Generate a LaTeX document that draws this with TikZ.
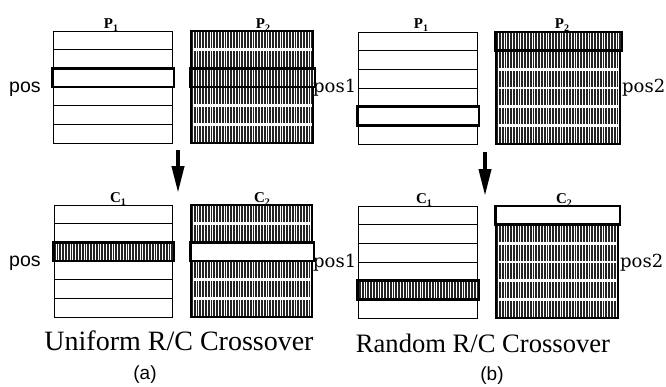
\documentclass[tikz,border=0pt]{standalone}
\usepackage{fontspec}
\setmainfont{Liberation Serif}
\setsansfont{Liberation Sans}
\newfontfamily\posserif{DejaVu Serif}
\usetikzlibrary{arrows.meta,patterns.meta}
\newcommand\rowh{18.667}
% white matrix: #1 x0, #2 y0, #3 x1
\newcommand\wmat[3]{%
  \foreach \k in {0,...,5}{\draw[wrow] (#1,{#2+\k*\rowh}) rectangle (#3,{#2+(\k+1)*\rowh});}}
% gray matrix
\newcommand\gmat[3]{%
  \fill[gtex] (#1,#2) rectangle (#3,{#2+6*\rowh});
  \foreach \k in {1,...,5}{\draw[gsep] ({#1+1.5},{#2+\k*\rowh}) -- ({#3-1.5},{#2+\k*\rowh});}
  \draw[gframe] (#1,#2) rectangle (#3,{#2+6*\rowh});}
% highlighted row: #1 x0, #2 y0, #3 x1, #4 row index, #5 fill style
\newcommand\hrow[5]{%
  \fill[#5] ({#1-0.5},{#2+#4*\rowh}) rectangle ({#3+2},{#2+(#4+1)*\rowh});
  \draw[hborder] ({#1-0.5},{#2+#4*\rowh}) rectangle ({#3+2},{#2+(#4+1)*\rowh});}
\newcommand\lab[2]{\textbf{#1}\raisebox{-3.5pt}{\fontsize{10}{10}\selectfont\textbf{#2}}}
\begin{document}
\begin{tikzpicture}[x=1pt,y=-1pt,
  wrow/.style={draw=black, line width=1pt, fill=white},
  gtex/.style={fill=black!86, postaction={pattern={Lines[angle=90,distance=2.8pt,line width=0.75pt]}, pattern color=white}},
  gsep/.style={draw=white, line width=2.6pt},
  gframe/.style={draw=black, line width=1.2pt},
  hw/.style={fill=white},
  hg/.style={gtex},
  hborder/.style={draw=black, line width=2.5pt},
  lbl/.style={font=\fontsize{15}{15}\selectfont, inner sep=0pt, anchor=base},
  possans/.style={font=\sffamily\fontsize{19.5}{19.5}\selectfont, inner sep=0pt, anchor=base west},
  posser/.style={font=\posserif\fontsize{18}{18}\selectfont, inner sep=0pt, anchor=base west},
  captext/.style={inner sep=0pt, anchor=base},
  subtext/.style={font=\sffamily\fontsize{19}{19}\selectfont, inner sep=0pt, anchor=base},
  downarrow/.style={draw=black, line width=4pt, -{Triangle[length=27pt,width=12pt]}}
]
\useasboundingbox (0,0) rectangle (666,386);
\fill[white] (0,0) rectangle (666,386);

% ---------- panel (a) ----------
\wmat{53}{31}{172}
\hrow{53}{31}{172}{2}{hw}
\gmat{191}{31}{313}
\hrow{191}{31}{313}{2}{hg}
\wmat{54}{205}{172}
\hrow{54}{205}{172}{2}{hg}
\gmat{191}{205}{312}
\hrow{191}{205}{312}{2}{hw}

\node[lbl] (ap1) at (111,28) {\lab{P}{1}};
\node[lbl] (ap2) at (263,28) {\lab{P}{2}};
\node[lbl] (ac1) at (118,202) {\lab{C}{1}};
\node[lbl] (ac2) at (262,202) {\lab{C}{2}};
\node[possans] (apos1) at (9,92) {pos};
\node[possans] (apos2) at (9,266) {pos};

\coordinate (aar1) at (178,150);
\coordinate (aar2) at (178,193);
\draw[downarrow] (aar1) -- (aar2);

\node[captext, font=\fontsize{28}{28}\selectfont] (capa) at (179,350) {Uniform R/C Crossover};
\node[subtext] (suba) at (145,379) {(a)};

% ---------- panel (b) ----------
\wmat{358}{32}{477}
\hrow{358}{32}{477}{4}{hw}
\gmat{496}{32}{620}
\hrow{496}{32}{620}{0}{hg}
\wmat{358}{206}{477}
\hrow{358}{206}{477}{4}{hg}
\gmat{496}{206}{618}
\hrow{496}{206}{618}{0}{hw}

\node[lbl] (bp1) at (421,28) {\lab{P}{1}};
\node[lbl] (bp2) at (562,28) {\lab{P}{2}};
\node[lbl] (bc1) at (424,203) {\lab{C}{1}};
\node[lbl] (bc2) at (564,203) {\lab{C}{2}};
\node[posser] (bpos1) at (313,92) {pos1};
\node[posser] (bpos2) at (622,92) {pos2};
\node[posser] (bpos3) at (313,267) {pos1};
\node[posser] (bpos4) at (620,267) {pos2};

\coordinate (bar1) at (485,152);
\coordinate (bar2) at (485,196);
\draw[downarrow] (bar1) -- (bar2);

\node[captext, font=\fontsize{26.6}{26.6}\selectfont] (capb) at (483,352) {Random R/C Crossover};
\node[subtext] (subb) at (492,380) {(b)};
\end{tikzpicture}
\end{document}
